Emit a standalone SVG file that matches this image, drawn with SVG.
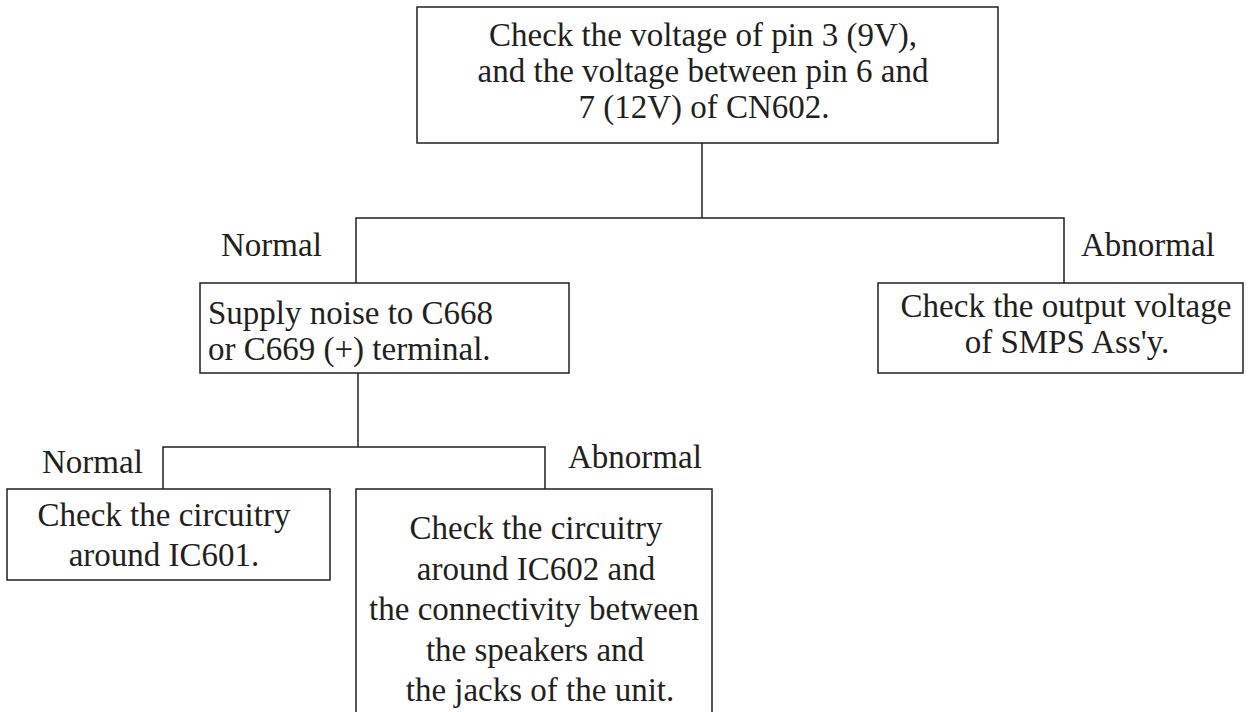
<svg xmlns="http://www.w3.org/2000/svg" width="1259" height="712" viewBox="0 0 1259 712">
  <style>
    .box { fill: #ffffff; stroke: #231f20; stroke-width: 1.5; }
    .wire { fill: none; stroke: #231f20; stroke-width: 1.5; }
    text { font-family: "Liberation Serif", "Times New Roman", serif; font-size: 33px; fill: #231f20; }
    .mid { text-anchor: middle; }
  </style>
  <rect width="1259" height="712" fill="#ffffff"/>

  <!-- connectors -->
  <g id="connectors">
    <path class="wire" d="M702,143 V218"/>
    <path class="wire" d="M356,283 V218 H1064 V283"/>
    <path class="wire" d="M358,373 V447"/>
    <path class="wire" d="M163,489 V447 H545 V489"/>
  </g>

  <!-- branch labels -->
  <g id="labels">
    <text x="221" y="256">Normal</text>
    <text x="1081" y="256">Abnormal</text>
    <text x="42" y="473">Normal</text>
    <text x="568" y="468">Abnormal</text>
  </g>

  <g id="check-cn602">
    <rect class="box" x="417" y="7" width="581" height="136"/>
    <text class="mid" x="703" y="46">Check the voltage of pin 3 (9V),</text>
    <text class="mid" x="703" y="82">and the voltage between pin 6 and</text>
    <text class="mid" x="704" y="118">7 (12V) of CN602.</text>
  </g>

  <g id="supply-noise">
    <rect class="box" x="200" y="283" width="369" height="90"/>
    <text x="208" y="324">Supply noise to C668</text>
    <text x="208" y="360">or C669 (+) terminal.</text>
  </g>

  <g id="check-smps">
    <rect class="box" x="878" y="283" width="365" height="90"/>
    <text class="mid" x="1066" y="317">Check the output voltage</text>
    <text class="mid" x="1067" y="353">of SMPS Ass'y.</text>
  </g>

  <g id="check-ic601">
    <rect class="box" x="7" y="489" width="323" height="91"/>
    <text class="mid" x="164" y="526">Check the circuitry</text>
    <text class="mid" x="164" y="566">around IC601.</text>
  </g>

  <g id="check-ic602">
    <rect class="box" x="356" y="489" width="356" height="240"/>
    <text class="mid" x="536" y="539">Check the circuitry</text>
    <text class="mid" x="536" y="580">around IC602 and</text>
    <text class="mid" x="534" y="620">the connectivity between</text>
    <text class="mid" x="535" y="661">the speakers and</text>
    <text class="mid" x="540" y="701">the jacks of the unit.</text>
  </g>
</svg>
